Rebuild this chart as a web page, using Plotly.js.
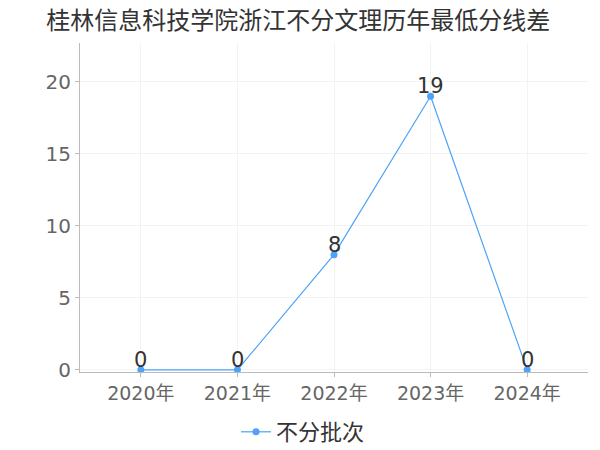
<!DOCTYPE html>
<html>
<head>
<meta charset="utf-8">
<script src="https://cdn.plot.ly/plotly-3.0.1.min.js"></script>
<style>
  html, body { margin: 0; padding: 0; background: #fff; }
  #plot { width: 600px; height: 450px; }
</style>
</head>
<body>
<div id="plot"></div>
<script>
// 年份和分差
var years = ["2020年", "2021年", "2022年", "2023年", "2024年"];
var diffs = [0, 0, 8, 19, 0];
var seriesName = "不分批次";

var fontFam = "DejaVu Sans, Noto Sans CJK SC, sans-serif";

var trace1 = {
  x: years,
  y: diffs,
  mode: "lines+markers",
  type: "scatter",
  name: seriesName,
  cliponaxis: false,
  line: { color: "#4da3f7", width: 1.2 },
  marker: { color: "#4da3f7", size: 7 }
};

// 数值标签
var labels = years.map(function (yr, i) {
  return {
    x: yr,
    y: diffs[i],
    text: String(diffs[i]),
    showarrow: false,
    xanchor: "center",
    yanchor: "bottom",
    yshift: -4,
    font: { family: fontFam, size: 21, color: "#333" }
  };
});

var layout = {
  width: 600,
  height: 450,
  font: { family: fontFam, color: "#666" },
  title: {
    text: "桂林信息科技学院浙江不分文理历年最低分线差",
    font: { family: "Noto Sans CJK SC, sans-serif", size: 24, color: "#333" },
    x: 0.497,
    xanchor: "center",
    xref: "container",
    y: 0.955,
    yanchor: "middle"
  },
  margin: { l: 80, r: 12, t: 43, b: 78 },
  showlegend: true,
  legend: {
    orientation: "h",
    x: 0.505,
    xanchor: "center",
    xref: "container",
    yref: "container",
    y: 0.04,
    yanchor: "middle",
    itemwidth: 30,
    font: { family: "Noto Sans CJK SC, sans-serif", size: 22, color: "#333" }
  },
  annotations: labels,
  xaxis: {
    type: "category",
    range: [-0.63, 4.63],
    showline: true,
    linecolor: "#bbb",
    linewidth: 1,
    showgrid: true,
    gridcolor: "#f3f3f3",
    ticks: "outside",
    ticklen: 4,
    tickcolor: "#bbb",
    tickfont: { size: 19, color: "#666" },
    automargin: false,
    zeroline: false
  },
  yaxis: {
    range: [-0.15, 22.7],
    tickvals: [0, 5, 10, 15, 20],
    showline: true,
    linecolor: "#bbb",
    linewidth: 1,
    showgrid: true,
    gridcolor: "#f3f3f3",
    ticks: "outside",
    ticklen: 4,
    tickcolor: "#bbb",
    tickfont: { size: 20, color: "#666" },
    automargin: false,
    zeroline: false
  },
  plot_bgcolor: "#fff",
  paper_bgcolor: "#fff"
};

Plotly.newPlot("plot", [trace1], layout, { displayModeBar: false });
</script>
</body>
</html>
